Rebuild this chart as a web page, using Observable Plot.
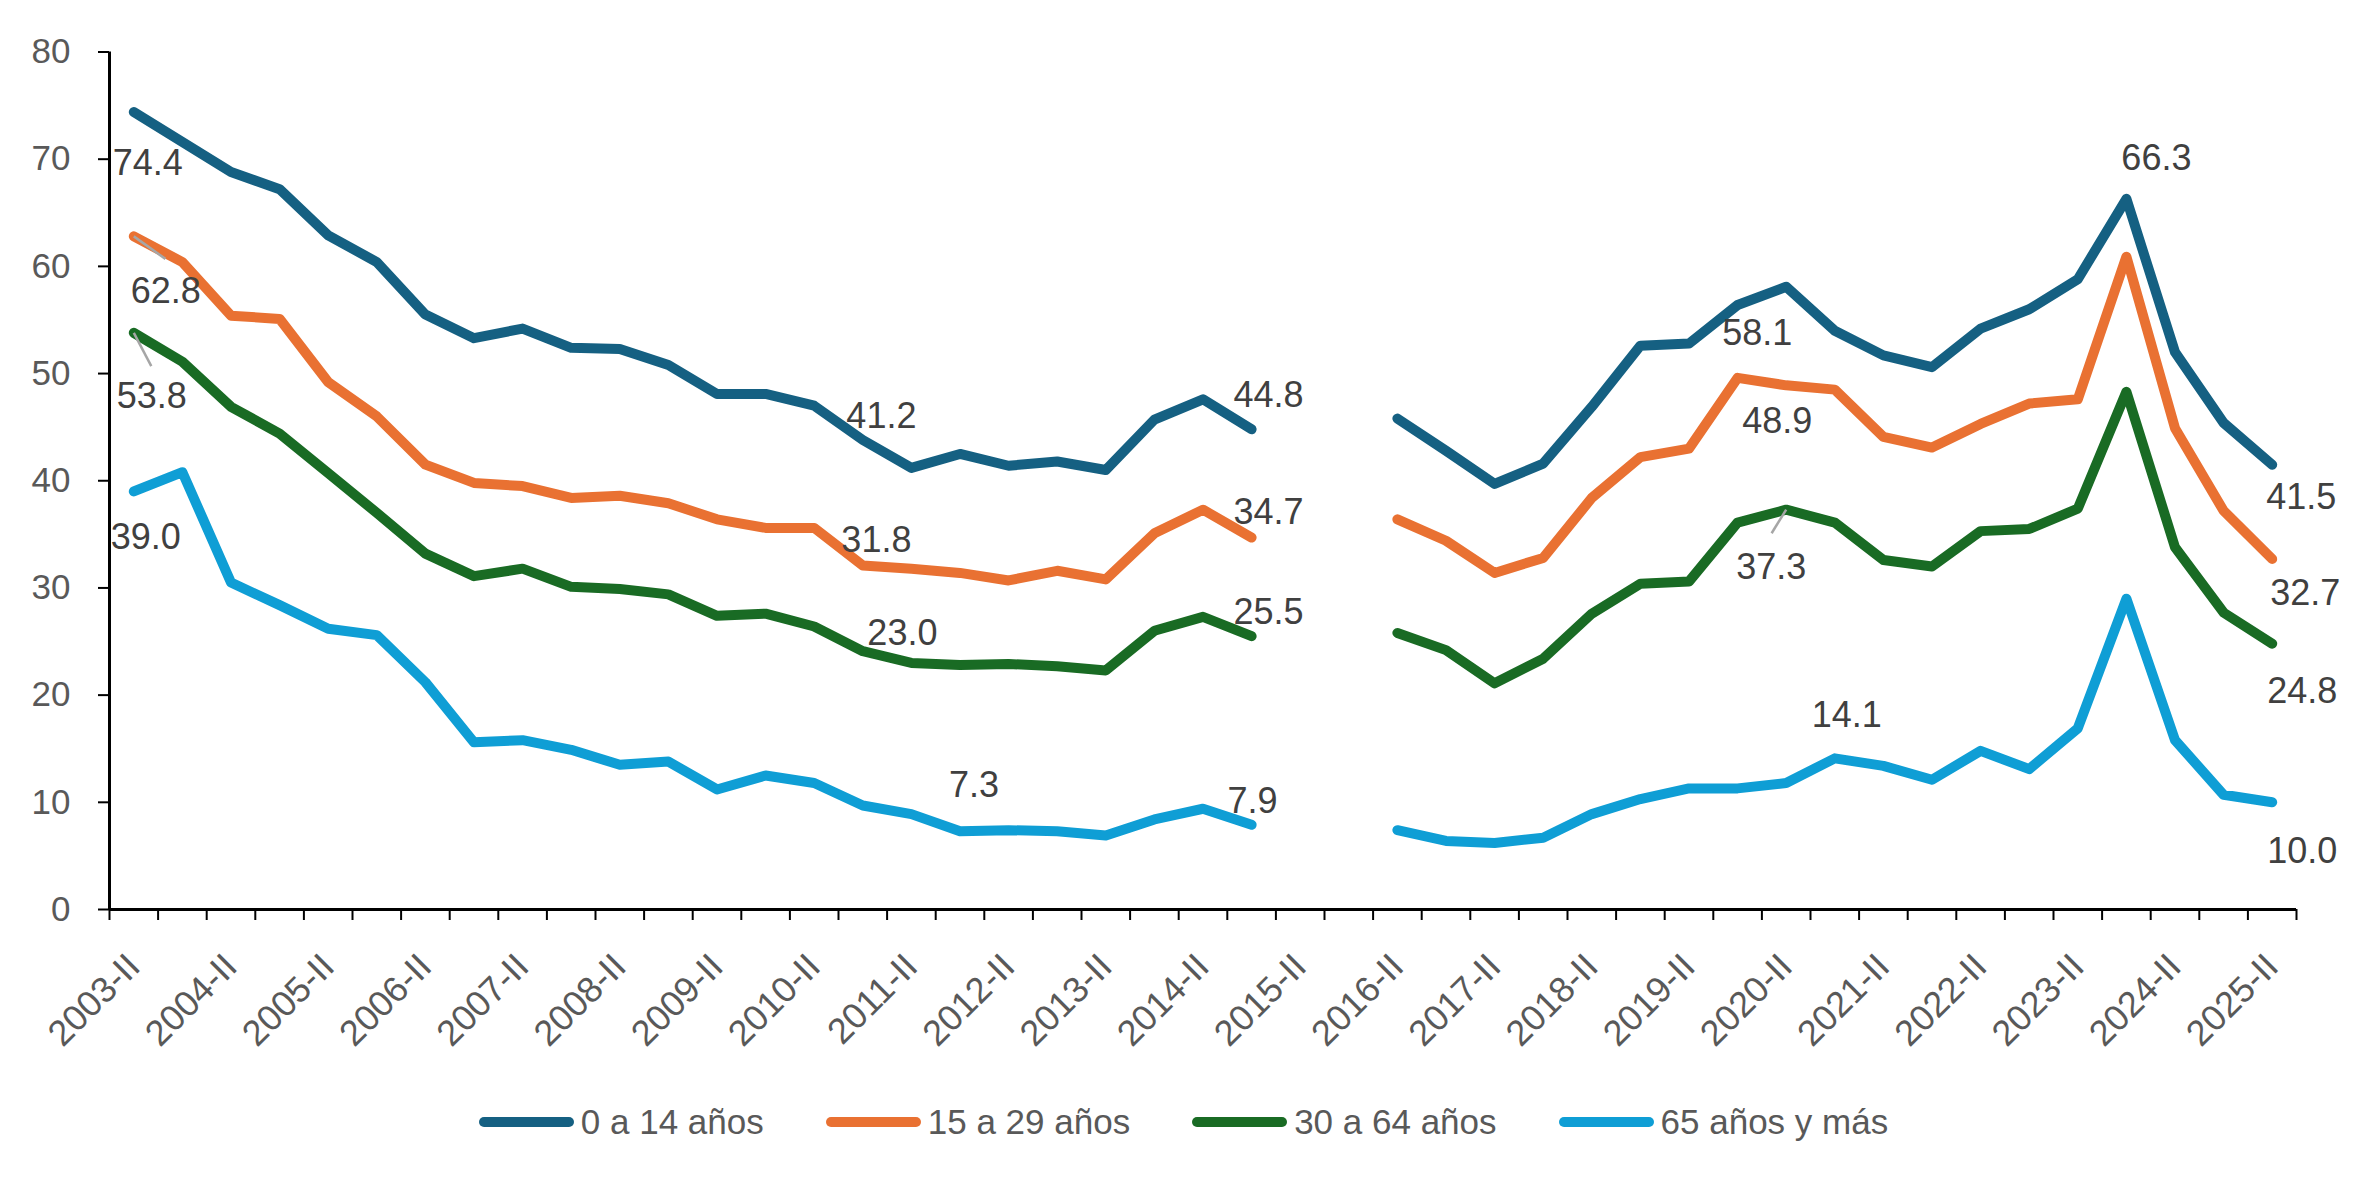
<!DOCTYPE html>
<html><head><meta charset="utf-8">
<script src="https://cdn.jsdelivr.net/npm/d3@7"></script>
<script src="https://cdn.jsdelivr.net/npm/@observablehq/plot@0.6"></script>
<style>
html,body{margin:0;padding:0;background:#fff;}
body{font-family:"Liberation Sans",Arial,sans-serif;width:2357px;}
#legend{display:flex;justify-content:center;align-items:center;height:94px;gap:62px;font-size:35px;color:#595959;padding-left:10px;}
.item{display:flex;align-items:center;gap:7px;}
.sw{width:95px;height:10px;border-radius:5px;}
</style></head><body>
<div id="chart"></div>
<div id="legend"></div>
<script>
const categories = ["2003-II","2004-I","2004-II","2005-I","2005-II","2006-I","2006-II","2007-I","2007-II","2008-I","2008-II","2009-I","2009-II","2010-I","2010-II","2011-I","2011-II","2012-I","2012-II","2013-I","2013-II","2014-I","2014-II","2015-I","2015-II","2016-I","2016-II","2017-I","2017-II","2018-I","2018-II","2019-I","2019-II","2020-I","2020-II","2021-I","2021-II","2022-I","2022-II","2023-I","2023-II","2024-I","2024-II","2025-I","2025-II"];

const edad0a14 = [74.4,71.6,68.8,67.2,62.9,60.4,55.5,53.3,54.2,52.4,52.3,50.8,48.1,48.1,47.0,43.8,41.2,42.5,41.4,41.8,41.0,45.7,47.6,44.8,null,null,45.8,42.8,39.7,41.6,46.9,52.6,52.8,56.4,58.1,54.0,51.7,50.6,54.2,56.0,58.8,66.3,52.0,45.4,41.5];
const edad15a29 = [62.8,60.4,55.4,55.1,49.2,46.0,41.5,39.8,39.5,38.4,38.6,37.9,36.4,35.6,35.6,32.1,31.8,31.4,30.7,31.6,30.8,35.1,37.3,34.7,null,null,36.4,34.4,31.4,32.8,38.4,42.2,43.0,49.6,48.9,48.5,44.1,43.1,45.3,47.2,47.6,60.9,44.9,37.2,32.7];
const edad30a64 = [53.8,51.1,46.9,44.4,40.7,37.0,33.2,31.1,31.8,30.1,29.9,29.4,27.4,27.6,26.4,24.1,23.0,22.8,22.9,22.7,22.3,26.0,27.3,25.5,null,null,25.8,24.2,21.1,23.4,27.6,30.4,30.6,36.1,37.3,36.1,32.6,32.0,35.3,35.5,37.4,48.3,33.8,27.7,24.8];
const edad65ymas = [39.0,40.8,30.5,28.4,26.2,25.6,21.2,15.6,15.8,14.9,13.5,13.8,11.2,12.5,11.8,9.7,8.9,7.3,7.4,7.3,6.9,8.4,9.4,7.9,null,null,7.4,6.4,6.2,6.7,8.9,10.3,11.3,11.3,11.8,14.1,13.4,12.1,14.8,13.1,16.9,29.0,15.8,10.7,10.0];

const seriesNames = ["0 a 14 años","15 a 29 años","30 a 64 años","65 años y más"];
const seriesColors = ["#156082","#E97132","#196B24","#0F9ED5"];
const seriesValues = [edad0a14, edad15a29, edad30a64, edad65ymas];
const yTicks = [0,10,20,30,40,50,60,70,80];

// labelled points: [series index, category index] and label offsets in px
const labelPoints = [
  [0,0,14,51],[1,0,32,55],[2,0,18,64],[3,0,12,46],
  [0,16,-30,-51],[1,16,-35,-28],[2,16,-9,-30],[3,17,14,-46],
  [0,23,17,-34],[1,23,17,-25],[2,23,17,-24],[3,23,1,-23],
  [0,34,-29,47],[1,34,-9,36],[2,34,-15,58],[3,35,12,-43],
  [0,41,30,-40],
  [0,44,29,33],[1,44,33,34],[2,44,30,48],[3,44,30,49]
];
// leader lines: [series index, category index, end x (category units), end y (value units)]
const leaders = [[1,0,0.65,60.7],[2,0,0.36,50.7],[2,34,33.7,35.1]];

const idx = categories.map((c,i)=>i);
const labelTicks = idx.filter(i => i % 2 === 0);
const boundaryTicks = d3.range(0, 46).map(i => i - 0.5);

const lineMarks = seriesValues.map((vals, s) =>
  Plot.line(vals.map((v,i)=>({i, v})), {
    x: "i", y: "v", stroke: seriesColors[s], strokeWidth: 10,
    strokeLinecap: "round", strokeLinejoin: "round"
  })
);

const leaderMarks = Plot.link(leaders, {
  x1: d => d[1], y1: d => seriesValues[d[0]][d[1]],
  x2: d => d[2], y2: d => d[3],
  stroke: "#A6A6A6", strokeWidth: 2.5
});

const textMarks = labelPoints.map(([s,i,dx,dy]) =>
  Plot.text([{i, v: seriesValues[s][i]}], {
    x: "i", y: "v", text: d => d.v.toFixed(1), dx, dy,
    fontSize: 36, fill: "#404040"
  })
);

const xLabelMark = Plot.text(labelTicks, {
  x: d => d, y: () => 0, text: d => categories[d],
  rotate: -45, textAnchor: "end", lineAnchor: "middle",
  dy: 51, fontSize: 36, fill: "#595959"
});

const chart = Plot.plot({
  width: 2357, height: 1075,
  marginLeft: 109, marginRight: 61, marginTop: 51.5, marginBottom: 166,
  x: {domain: [-0.5, 44.5]},
  y: {domain: [0, 80]},
  style: {fontFamily: '"Liberation Sans", Arial, sans-serif', background: "white", overflow: "visible"},
  marks: [
    Plot.axisY({ticks: yTicks, tickSize: 11, tickPadding: 28, fontSize: 35, fill: "#595959", stroke: "#000", strokeWidth: 2, label: null}),
    Plot.axisX({ticks: boundaryTicks, tickSize: 11, tickFormat: () => "", stroke: "#000", strokeWidth: 2, label: null}),
    xLabelMark,
    ...lineMarks,
    leaderMarks,
    ...textMarks,
    Plot.ruleY([0], {stroke: "#000", strokeWidth: 3}),
    Plot.ruleX([-0.5], {y1: 0, y2: 80, stroke: "#000", strokeWidth: 3})
  ]
});
document.getElementById("chart").appendChild(chart);

const legend = document.getElementById("legend");
seriesNames.forEach((name, s) => {
  const item = document.createElement("div");
  item.className = "item";
  const sw = document.createElement("div");
  sw.className = "sw";
  sw.style.background = seriesColors[s];
  const label = document.createElement("span");
  label.textContent = name;
  item.appendChild(sw);
  item.appendChild(label);
  legend.appendChild(item);
});
</script>
</body></html>
